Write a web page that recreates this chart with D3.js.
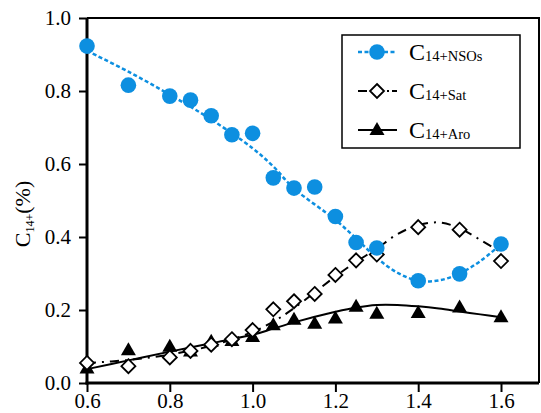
<!DOCTYPE html>
<html>
<head>
<meta charset="utf-8">
<script src="https://cdn.jsdelivr.net/npm/d3@7"></script>
<style>
  html, body { margin: 0; padding: 0; background: #fff; }
  svg { display: block; }
  svg text { font-family: "Liberation Serif", "Times New Roman", serif !important; }
</style>
</head>
<body>
<svg id="chart" width="541" height="413"></svg>
<script>
// Measured samples
const xVals = [0.6, 0.7, 0.8, 0.85, 0.9, 0.95, 1.0, 1.05, 1.1, 1.15, 1.2, 1.25, 1.3, 1.4, 1.5, 1.6];
const nsoVals = [0.923, 0.816, 0.786, 0.775, 0.732, 0.680, 0.684, 0.562, 0.534, 0.537, 0.456, 0.385, 0.370, 0.280, 0.299, 0.381];
const satVals = [0.055, 0.046, 0.070, 0.088, 0.105, 0.120, 0.145, 0.202, 0.224, 0.244, 0.296, 0.336, 0.352, 0.427, 0.420, 0.334];
const aroVals = [0.040, 0.090, 0.099, 0.086, 0.113, 0.115, 0.126, 0.158, 0.173, 0.162, 0.177, 0.209, 0.190, 0.192, 0.207, 0.180];

// Trend curves
const fitX = [0.6, 0.7, 0.8, 0.9, 1.0, 1.05, 1.1, 1.2, 1.25, 1.3, 1.35, 1.4, 1.45, 1.5, 1.55, 1.6];
const nsoFit = [0.910, 0.853, 0.790, 0.722, 0.643, 0.593, 0.533, 0.447, 0.396, 0.343, 0.302, 0.280, 0.281, 0.300, 0.334, 0.380];
const satFit = [0.055, 0.063, 0.078, 0.102, 0.140, 0.168, 0.205, 0.292, 0.332, 0.368, 0.408, 0.432, 0.440, 0.424, 0.392, 0.358];
const aroFit = [0.038, 0.062, 0.086, 0.109, 0.132, 0.149, 0.166, 0.195, 0.207, 0.214, 0.214, 0.210, 0.204, 0.196, 0.188, 0.180];

const xTicks = [0.6, 0.8, 1.0, 1.2, 1.4, 1.6];
const yTicks = [0.0, 0.2, 0.4, 0.6, 0.8, 1.0];

const blue = "#0d8fe0";
const serif = "'Liberation Serif', 'Times New Roman', serif";
const svg = d3.select("#chart");

const mLeft = 87, mRight = 539, mTop = 18, mBottom = 383;
const x = d3.scaleLinear().domain([0.6, 1.6]).range([mLeft, 501]);
const y = d3.scaleLinear().domain([0, 1]).range([mBottom, mTop]);

// frame (top and right)
svg.append("path")
  .attr("d", `M${mLeft},${mTop}H${mRight}V${mBottom}`)
  .attr("fill", "none").attr("stroke", "#000").attr("stroke-width", 2);

// axes
const yAxis = svg.append("g").attr("transform", `translate(${mLeft},0)`)
  .call(d3.axisLeft(y).tickValues(yTicks).tickFormat(d3.format(".1f")).tickSize(8).tickPadding(8));
const xAxis = svg.append("g").attr("transform", `translate(0,${mBottom})`)
  .call(d3.axisBottom(x).tickValues(xTicks).tickFormat(d3.format(".1f")).tickSize(9).tickPadding(5));
[yAxis, xAxis].forEach(g => {
  g.attr("font-family", serif).attr("font-size", 21);
  g.select(".domain").attr("stroke-width", 3).attr("stroke", "#000");
  g.selectAll(".tick line").attr("stroke-width", 2).attr("stroke", "#000");
  g.selectAll(".tick text").style("font-size", "21px").style("font-family", serif).attr("fill", "#000");
});
xAxis.selectAll(".tick text").attr("y", 25).attr("dy", "0");
yAxis.select(".domain").attr("d", `M0,${mBottom + 1.5}V${mTop}`);
xAxis.select(".domain").attr("d", `M${mLeft - 1.5},0H${mRight}`);

// y-axis title
const yt = svg.append("text")
  .attr("transform", `translate(30,214) rotate(-90)`)
  .attr("text-anchor", "middle")
  .style("font-family", serif).style("font-size", "22px").attr("fill", "#000");
yt.append("tspan").text("C");
yt.append("tspan").style("font-size", "12px").attr("dy", 4).text("14+");
yt.append("tspan").attr("dy", -4).text("(%)");

// trend curves
const line = vals => d3.line()
  .x((d, i) => x(fitX[i])).y(d => y(d))
  .curve(d3.curveCatmullRom)(vals);

svg.append("path").attr("d", line(nsoFit)).attr("fill", "none")
  .attr("stroke", blue).attr("stroke-width", 2.5).attr("stroke-dasharray", "4,2.5");
svg.append("path").attr("d", line(satFit)).attr("fill", "none")
  .attr("stroke", "#000").attr("stroke-width", 2).attr("stroke-dasharray", "9,6,2,6");
svg.append("path").attr("d", line(aroFit)).attr("fill", "none")
  .attr("stroke", "#000").attr("stroke-width", 2);

// markers
const square = "M0,-7L7,0L0,7L-7,0Z";
const tri = "M0,-8L7.5,5L-7.5,5Z";

svg.append("g").selectAll("path").data(aroVals).join("path")
  .attr("d", tri)
  .attr("transform", (d, i) => `translate(${x(xVals[i])},${y(d)})`)
  .attr("fill", "#000");

svg.append("g").selectAll("path").data(satVals).join("path")
  .attr("d", square)
  .attr("transform", (d, i) => `translate(${x(xVals[i])},${y(d)})`)
  .attr("fill", "#fff").attr("stroke", "#000").attr("stroke-width", 1.8);

svg.append("g").selectAll("circle").data(nsoVals).join("circle")
  .attr("cx", (d, i) => x(xVals[i])).attr("cy", d => y(d))
  .attr("r", 7.8).attr("fill", blue);

// legend
const lg = svg.append("g");
lg.append("rect").attr("x", 342).attr("y", 35).attr("width", 178).attr("height", 113)
  .attr("fill", "#fff").attr("stroke", "#000").attr("stroke-width", 1.5);

const entries = [
  { sub: "14+NSOs", y: 52, draw: g => {
      g.append("line").attr("x1", 358).attr("x2", 397).attr("y1", 0).attr("y2", 0)
        .attr("stroke", blue).attr("stroke-width", 2.5).attr("stroke-dasharray", "4,2.5");
      g.append("circle").attr("cx", 377).attr("cy", 0).attr("r", 7.8).attr("fill", blue);
  } },
  { sub: "14+Sat", y: 91, draw: g => {
      g.append("line").attr("x1", 358).attr("x2", 397).attr("y1", 0).attr("y2", 0)
        .attr("stroke", "#000").attr("stroke-width", 2).attr("stroke-dasharray", "9,3,2,3");
      g.append("path").attr("d", square).attr("transform", "translate(377,0)")
        .attr("fill", "#fff").attr("stroke", "#000").attr("stroke-width", 1.8);
  } },
  { sub: "14+Aro", y: 130, draw: g => {
      g.append("line").attr("x1", 358).attr("x2", 397).attr("y1", 0).attr("y2", 0)
        .attr("stroke", "#000").attr("stroke-width", 2);
      g.append("path").attr("d", tri).attr("transform", "translate(377,0)").attr("fill", "#000");
  } }
];
entries.forEach(e => {
  const g = lg.append("g").attr("transform", `translate(0,${e.y})`);
  e.draw(g);
  const t = g.append("text").attr("x", 409).attr("y", 8).attr("fill", "#000")
    .style("font-family", serif).style("font-size", "24px");
  t.append("tspan").text("C");
  t.append("tspan").style("font-size", "14.5px").attr("dy", 1).text(e.sub);
});
</script>
</body>
</html>
